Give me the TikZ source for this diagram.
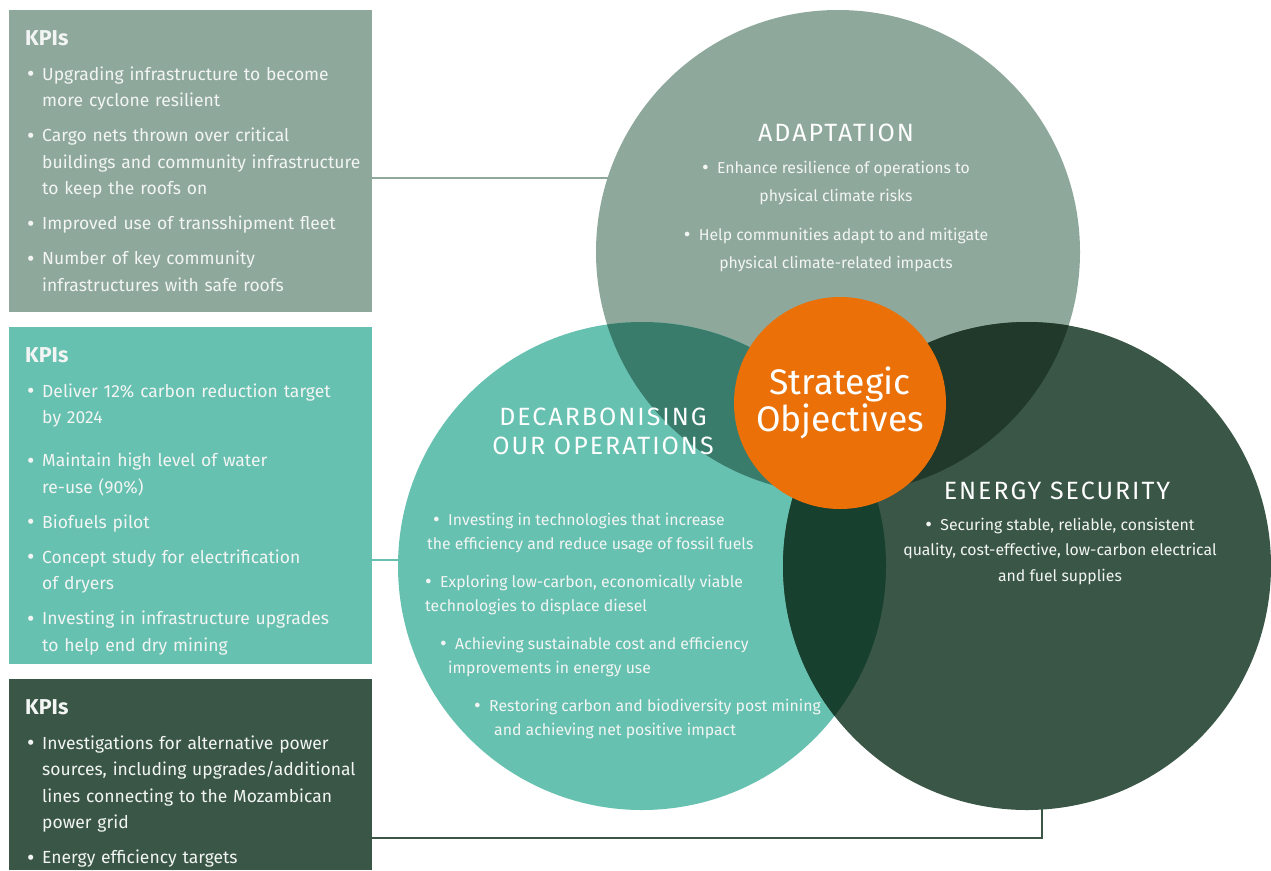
\documentclass[tikz,border=0pt]{standalone}
\usepackage{fontspec}
\setmainfont{Fira Sans}
\usetikzlibrary{positioning}

\definecolor{adaptgrey}{HTML}{8FA89C}
\definecolor{decarbteal}{HTML}{67C1B0}
\definecolor{energygreen}{HTML}{3A5646}
\definecolor{adaptdecarb}{HTML}{3A7C6C}
\definecolor{adaptenergy}{HTML}{21392B}
\definecolor{decarbenergy}{HTML}{17402F}
\definecolor{stratorange}{HTML}{EA7007}
\definecolor{softwhite}{HTML}{F2F5F3}

\newcommand{\bigbullet}{\raisebox{-0.08em}{\fontsize{1.3em}{0}\selectfont\textbullet}}
\newcommand{\kpihead}[1]{{\bfseries\fontsize{21.5}{24}\selectfont #1\par}}
\newcommand{\kpiitem}[2][8.5pt]{\vspace{#1}\hangindent=17pt\hangafter=1\noindent
    \makebox[17pt][l]{\hspace{2pt}\bigbullet}#2\par}

\tikzset{
    kpibox/.style={
        anchor=north west,
        minimum width=363pt,
        inner sep=0pt
    },
    kpitext/.style={
        anchor=north west,
        text width=345pt,
        inner sep=0pt,
        align=left,
        text=softwhite,
        font=\fontsize{17.5}{26.5}\selectfont
    },
    bigcircle/.style={
        circle,
        minimum size=488pt,
        inner sep=0pt
    },
    circtitle/.style={
        text=white,
        inner sep=0pt,
        align=center,
        font=\fontsize{25}{29}\selectfont\addfontfeatures{LetterSpace=8}
    },
    circtext/.style={
        text=softwhite,
        inner sep=0pt,
        anchor=base,
        align=center,
        font=\fontsize{15.8}{28}\selectfont
    },
    link/.style={
        line width=2pt
    }
}

\begin{document}
\begin{tikzpicture}[x=1pt,y=-1pt]
\useasboundingbox (0,0) rectangle (1271,870);

% KPI boxes
\node[kpibox, fill=adaptgrey, minimum height=302pt] (kpiA) at (9,10) {};
\node[kpibox, fill=decarbteal, minimum height=337pt] (kpiD) at (9,327) {};
\node[kpibox, fill=energygreen, minimum height=191pt] (kpiE) at (9,679) {};

\node[kpitext] (kpiAtext) at (25,30) {%
    \kpihead{KPIs}
    \kpiitem{Upgrading infrastructure to become\newline more cyclone resilient}
    \kpiitem{Cargo nets thrown over critical\newline buildings and community infrastructure\newline to keep the roofs on}
    \kpiitem{Improved use of transshipment fleet}
    \kpiitem{Number of key community\newline infrastructures with safe roofs}};

\node[kpitext] (kpiDtext) at (25,347) {%
    \kpihead{KPIs}
    \kpiitem{Deliver 12\% carbon reduction target\newline by 2024}
    \kpiitem[16.5pt]{Maintain high level of water\newline re-use (90\%)}
    \kpiitem{Biofuels pilot}
    \kpiitem{Concept study for electrification\newline of dryers}
    \kpiitem{Investing in infrastructure upgrades\newline to help end dry mining}};

\node[kpitext] (kpiEtext) at (25,699) {%
    \kpihead{KPIs}
    \kpiitem{Investigations for alternative power\newline sources, including upgrades/additional\newline lines connecting to the Mozambican\newline power grid}
    \kpiitem{Energy efficiency targets}};

% connectors (drawn first, the circles cover their ends)
\coordinate (adaptIn) at (700,178);
\coordinate (decarbIn) at (500,560);
\coordinate (energyIn) at (1042,700);
\draw[link, adaptgrey] (kpiA.east |- adaptIn) -- (adaptIn);
\draw[link, decarbteal] (kpiD.east |- decarbIn) -- (decarbIn);
\draw[link, energygreen] (kpiE.east |- 0,838) -| (energyIn);

% the three objectives
\node[bigcircle, minimum size=484pt, fill=adaptgrey] (adapt) at (838,252) {};
\node[bigcircle, fill=decarbteal] (decarb) at (642,566) {};
\node[bigcircle, fill=energygreen] (energy) at (1027,566) {};

% overlaps
\begin{scope}
    \clip (adapt.center) circle (242);
    \fill[adaptdecarb] (decarb.center) circle (244);
    \fill[adaptenergy] (energy.center) circle (244);
\end{scope}
\begin{scope}
    \clip (decarb.center) circle (244);
    \fill[decarbenergy] (energy.center) circle (244);
\end{scope}

\node[circle, fill=stratorange, minimum size=212pt, inner sep=0pt,
    text=white, align=center, font=\fontsize{35.5}{37}\selectfont] (strat) at (840,403)
    {Strategic\\Objectives};

% adaptation
\node[circtitle] (adaptT) at (836,133) {ADAPTATION};
\node[circtext] (adaptB1) at (836,201)
    {\bigbullet\ \ Enhance resilience of operations to\\physical climate risks};
\node[circtext] (adaptB2) at (836,268)
    {\bigbullet\ \ Help communities adapt to and mitigate\\physical climate-related impacts};

% decarbonising
\node[circtitle] (decarbT) at (603,431) {DECARBONISING\\OUR OPERATIONS};
\tikzset{circtext/.append style={anchor=base west, align=left,
    font=\fontsize{15.8}{24}\selectfont}}
\node[circtext] (decarbB1) at (427,549)
    {\hspace*{6pt}\bigbullet\ \ Investing in technologies that increase\\the efficiency and reduce usage of fossil fuels};
\node[circtext] (decarbB2) at (425,611)
    {\bigbullet\ \ Exploring low-carbon, economically viable\\technologies to displace diesel};
\node[circtext] (decarbB3) at (440,673)
    {\bigbullet\ \ Achieving sustainable cost and efficiency\\\hspace*{8pt}improvements in energy use};
\node[circtext] (decarbB4) at (474,735)
    {\bigbullet\ \ Restoring carbon and biodiversity post mining\\\hspace*{20pt}and achieving net positive impact};

% energy security
\node[circtitle] (energyT) at (1057,491) {ENERGY SECURITY};
\node[circtext, anchor=base, align=center, font=\fontsize{15.8}{25.5}\selectfont] (energyB1) at (1060,581)
    {\bigbullet\ \ Securing stable, reliable, consistent\\quality, cost-effective, low-carbon electrical\\and fuel supplies};

\end{tikzpicture}
\end{document}
